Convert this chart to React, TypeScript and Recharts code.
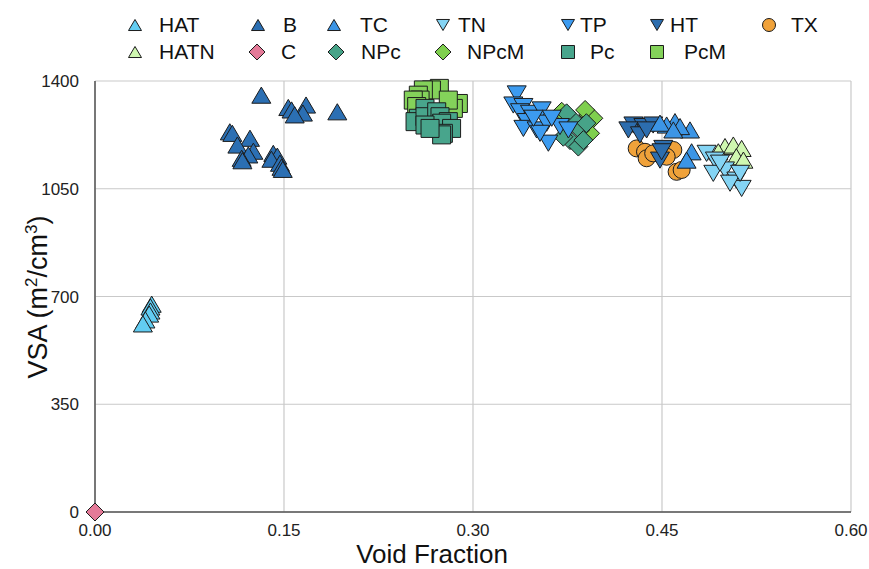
import React from 'react';
import { ScatterChart, Scatter, XAxis, YAxis, CartesianGrid, Label } from 'recharts';

type Pt = { x: number; y: number };
const pts = (rows: number[][]): Pt[] => rows.map(([x, y]) => ({ x, y }));

// Void fraction (x) vs. volumetric surface area (y) per framework family
const HAT = pts([[0.045, 675], [0.044, 666], [0.044, 653], [0.043, 643], [0.040, 624], [0.038, 611]]);
const HATN = pts([[0.5, 1187], [0.5066, 1192], [0.5132, 1181], [0.4947, 1170], [0.509, 1154], [0.5146, 1143]]);
const B = pts([
  [0.132, 1354], [0.1534, 1314], [0.156, 1306], [0.1675, 1322], [0.165, 1296], [0.1585, 1290], [0.1923, 1300],
  [0.107, 1235], [0.109, 1230], [0.123, 1214], [0.113, 1192], [0.1257, 1172], [0.1217, 1160], [0.1164, 1149],
  [0.117, 1141], [0.1415, 1165], [0.1447, 1156], [0.14, 1146], [0.1468, 1133], [0.148, 1120], [0.149, 1113],
]);
const C = pts([[0.0, 0]]);
const TC = pts([
  [0.4603, 1268], [0.4537, 1257], [0.4722, 1241], [0.4643, 1252], [0.4735, 1170], [0.4695, 1143],
  [0.4484, 1263], [0.459, 1241],
]);
const NPc = pts([
  [0.3796, 1273], [0.385, 1241], [0.377, 1208], [0.3836, 1187], [0.3717, 1219], [0.39, 1263],
  [0.3743, 1295], [0.3876, 1208],
]);
const TN = pts([
  [0.4854, 1165], [0.492, 1143], [0.5, 1111], [0.4907, 1100], [0.509, 1078], [0.5132, 1051],
  [0.504, 1068], [0.512, 1100], [0.496, 1133],
]);
const NPcM = pts([[0.3915, 1290], [0.3955, 1279], [0.3929, 1230], [0.3704, 1300], [0.389, 1306]]);
const TP = pts([
  [0.3347, 1358], [0.332, 1322], [0.34, 1317], [0.3373, 1300], [0.3452, 1295], [0.3545, 1306],
  [0.3426, 1268], [0.34, 1246], [0.3505, 1241], [0.3585, 1263], [0.3598, 1198], [0.3532, 1230],
  [0.369, 1252], [0.3757, 1241], [0.3625, 1279], [0.348, 1279],
]);
const Pc = pts([
  [0.2619, 1311], [0.2566, 1279], [0.254, 1268], [0.2619, 1284], [0.2712, 1300], [0.2738, 1284],
  [0.2804, 1268], [0.2751, 1263], [0.283, 1246], [0.2765, 1230], [0.2751, 1225], [0.2619, 1257],
  [0.2659, 1246],
]);
const HT = pts([
  [0.4273, 1257], [0.4352, 1252], [0.4233, 1241], [0.443, 1257], [0.4325, 1225], [0.451, 1181],
  [0.4484, 1143], [0.4563, 1241], [0.4497, 1170], [0.4378, 1241],
]);
const PcM = pts([
  [0.2733, 1376], [0.267, 1371], [0.2606, 1371], [0.2566, 1354], [0.258, 1338], [0.2884, 1327],
  [0.2844, 1311], [0.2804, 1338], [0.2526, 1338], [0.2553, 1317],
]);
const TX = pts([
  [0.4299, 1181], [0.4365, 1170], [0.4378, 1149], [0.459, 1176], [0.4616, 1105], [0.4656, 1111],
  [0.4537, 1154], [0.443, 1165],
]);

const xTicks = [0, 0.15, 0.3, 0.45, 0.6];
const yTicks = [0, 350, 700, 1050, 1400];

const FONT = '"Liberation Sans", Arial, Helvetica, sans-serif';
const EDGE = '#1c1c1c';

type Kind = 'up' | 'down' | 'diamond' | 'square' | 'circle';

const markerPath = (kind: Kind, cx: number, cy: number, s: number): string => {
  const h = s / 2;
  switch (kind) {
    case 'up':
      return `M${cx},${cy - h * 0.85} L${cx + h},${cy + h * 0.85} L${cx - h},${cy + h * 0.85} Z`;
    case 'down':
      return `M${cx - h},${cy - h * 0.85} L${cx + h},${cy - h * 0.85} L${cx},${cy + h * 0.85} Z`;
    case 'diamond':
      return `M${cx},${cy - h} L${cx + h},${cy} L${cx},${cy + h} L${cx - h},${cy} Z`;
    case 'square':
      return `M${cx - h},${cy - h} L${cx + h},${cy - h} L${cx + h},${cy + h} L${cx - h},${cy + h} Z`;
    default:
      return '';
  }
};

const Marker = ({ kind, cx, cy, s, fill }: { kind: Kind; cx: number; cy: number; s: number; fill: string }) =>
  kind === 'circle' ? (
    <circle cx={cx} cy={cy} r={s / 2} fill={fill} stroke={EDGE} strokeWidth={1} />
  ) : (
    <path d={markerPath(kind, cx, cy, s)} fill={fill} stroke={EDGE} strokeWidth={1} strokeLinejoin="miter" />
  );

const shapeFor = (kind: Kind, fill: string, s: number) => (props: any) => (
  <Marker kind={kind} cx={props.cx} cy={props.cy} s={s} fill={fill} />
);

type Series = { name: string; data: Pt[]; kind: Kind; fill: string; size: number };

// Drawing order: later entries sit on top
const series: Series[] = [
  { name: 'PcM', data: PcM, kind: 'square', fill: '#84D25A', size: 18 },
  { name: 'Pc', data: Pc, kind: 'square', fill: '#48A58C', size: 18 },
  { name: 'NPcM', data: NPcM, kind: 'diamond', fill: '#7FCF4E', size: 19 },
  { name: 'NPc', data: NPc, kind: 'diamond', fill: '#47A388', size: 19 },
  { name: 'TP', data: TP, kind: 'down', fill: '#3C9BF0', size: 19 },
  { name: 'TX', data: TX, kind: 'circle', fill: '#F0A23A', size: 17 },
  { name: 'HT', data: HT, kind: 'down', fill: '#2C6DAE', size: 19 },
  { name: 'TC', data: TC, kind: 'up', fill: '#3C95E5', size: 19 },
  { name: 'HATN', data: HATN, kind: 'up', fill: '#CFF7B0', size: 19 },
  { name: 'TN', data: TN, kind: 'down', fill: '#84D4F4', size: 19 },
  { name: 'HAT', data: HAT, kind: 'up', fill: '#62CDF2', size: 19 },
  { name: 'B', data: B, kind: 'up', fill: '#2B6FB3', size: 19 },
  { name: 'C', data: C, kind: 'diamond', fill: '#E47A98', size: 18 },
];

const legendRows: { name: string; icon: number; text: number }[][] = [
  [
    { name: 'HAT', icon: 135, text: 159 },
    { name: 'B', icon: 258, text: 283 },
    { name: 'TC', icon: 334, text: 360 },
    { name: 'TN', icon: 443, text: 458 },
    { name: 'TP', icon: 568, text: 580 },
    { name: 'HT', icon: 657, text: 670 },
    { name: 'TX', icon: 769, text: 791 },
  ],
  [
    { name: 'HATN', icon: 135, text: 159 },
    { name: 'C', icon: 257, text: 281 },
    { name: 'NPc', icon: 336, text: 361 },
    { name: 'NPcM', icon: 443, text: 467 },
    { name: 'Pc', icon: 568, text: 590 },
    { name: 'PcM', icon: 657, text: 684 },
  ],
];
const legendRowY = [25, 52];

const Legend = () => (
  <div style={{ position: 'absolute', left: 0, top: 0, width: 869, height: 70, pointerEvents: 'none' }}>
    {legendRows.map((row, r) =>
      row.map((item) => {
        const s = series.find((k) => k.name === item.name)!;
        const iconSize = s.kind === 'diamond' ? 16 : 13;
        return (
          <React.Fragment key={item.name}>
            <svg
              width={20}
              height={20}
              style={{ position: 'absolute', left: item.icon - 10, top: legendRowY[r] - 10 }}
            >
              <Marker kind={s.kind} cx={10} cy={10} s={iconSize} fill={s.fill} />
            </svg>
            <div
              style={{
                position: 'absolute',
                left: item.text,
                top: legendRowY[r] - 12,
                height: 24,
                lineHeight: '24px',
                fontSize: 21,
                fontFamily: FONT,
                color: '#111',
                whiteSpace: 'nowrap',
              }}
            >
              {item.name}
            </div>
          </React.Fragment>
        );
      })
    )}
  </div>
);

const XTick = (props: any) => (
  <text x={props.x} y={props.y + 16} textAnchor="middle" fontSize={17} fontFamily={FONT} fill="#222">
    {Number(props.payload.value).toFixed(2)}
  </text>
);

const YTick = (props: any) => (
  <text x={props.x} y={props.y + 6} textAnchor="end" fontSize={17} fontFamily={FONT} fill="#222">
    {props.payload.value}
  </text>
);

export default function App() {
  return (
    <div style={{ position: 'absolute', left: 0, top: 0, width: 869, height: 569, background: '#fff' }}>
      <ScatterChart width={869} height={569} margin={{ top: 81, right: 18, bottom: 0, left: 0 }}>
        <CartesianGrid stroke="#c9c9c9" strokeWidth={1.2} />
        <XAxis
          type="number"
          dataKey="x"
          domain={[0, 0.6]}
          ticks={xTicks}
          height={57}
          tickSize={0}
          tickMargin={8}
          tick={<XTick />}
          axisLine={{ stroke: '#555', strokeWidth: 1.5 }}
          tickLine={false}
          interval={0}
        >
          <Label
            content={() => (
              <text x={432} y={563} textAnchor="middle" fontSize={26} fontFamily={FONT} fill="#111">
                Void Fraction
              </text>
            )}
          />
        </XAxis>
        <YAxis
          type="number"
          dataKey="y"
          domain={[0, 1400]}
          ticks={yTicks}
          width={95}
          tickSize={0}
          tickMargin={16}
          tick={<YTick />}
          axisLine={{ stroke: '#555', strokeWidth: 1.5 }}
          tickLine={false}
          interval={0}
        >
          <Label
            content={() => (
              <text
                transform="translate(47,297) rotate(-90)"
                textAnchor="middle"
                fontSize={27}
                fontFamily={FONT}
                fill="#111"
              >
                VSA (m
                <tspan fontSize={17} dy={-10}>2</tspan>
                <tspan dy={10}>/cm</tspan>
                <tspan fontSize={17} dy={-10}>3</tspan>
                <tspan dy={10}>)</tspan>
              </text>
            )}
          />
        </YAxis>
        {series.map((s) => (
          <Scatter
            key={s.name}
            name={s.name}
            data={s.data}
            shape={shapeFor(s.kind, s.fill, s.size)}
            isAnimationActive={false}
          />
        ))}
      </ScatterChart>
      <Legend />
    </div>
  );
}
